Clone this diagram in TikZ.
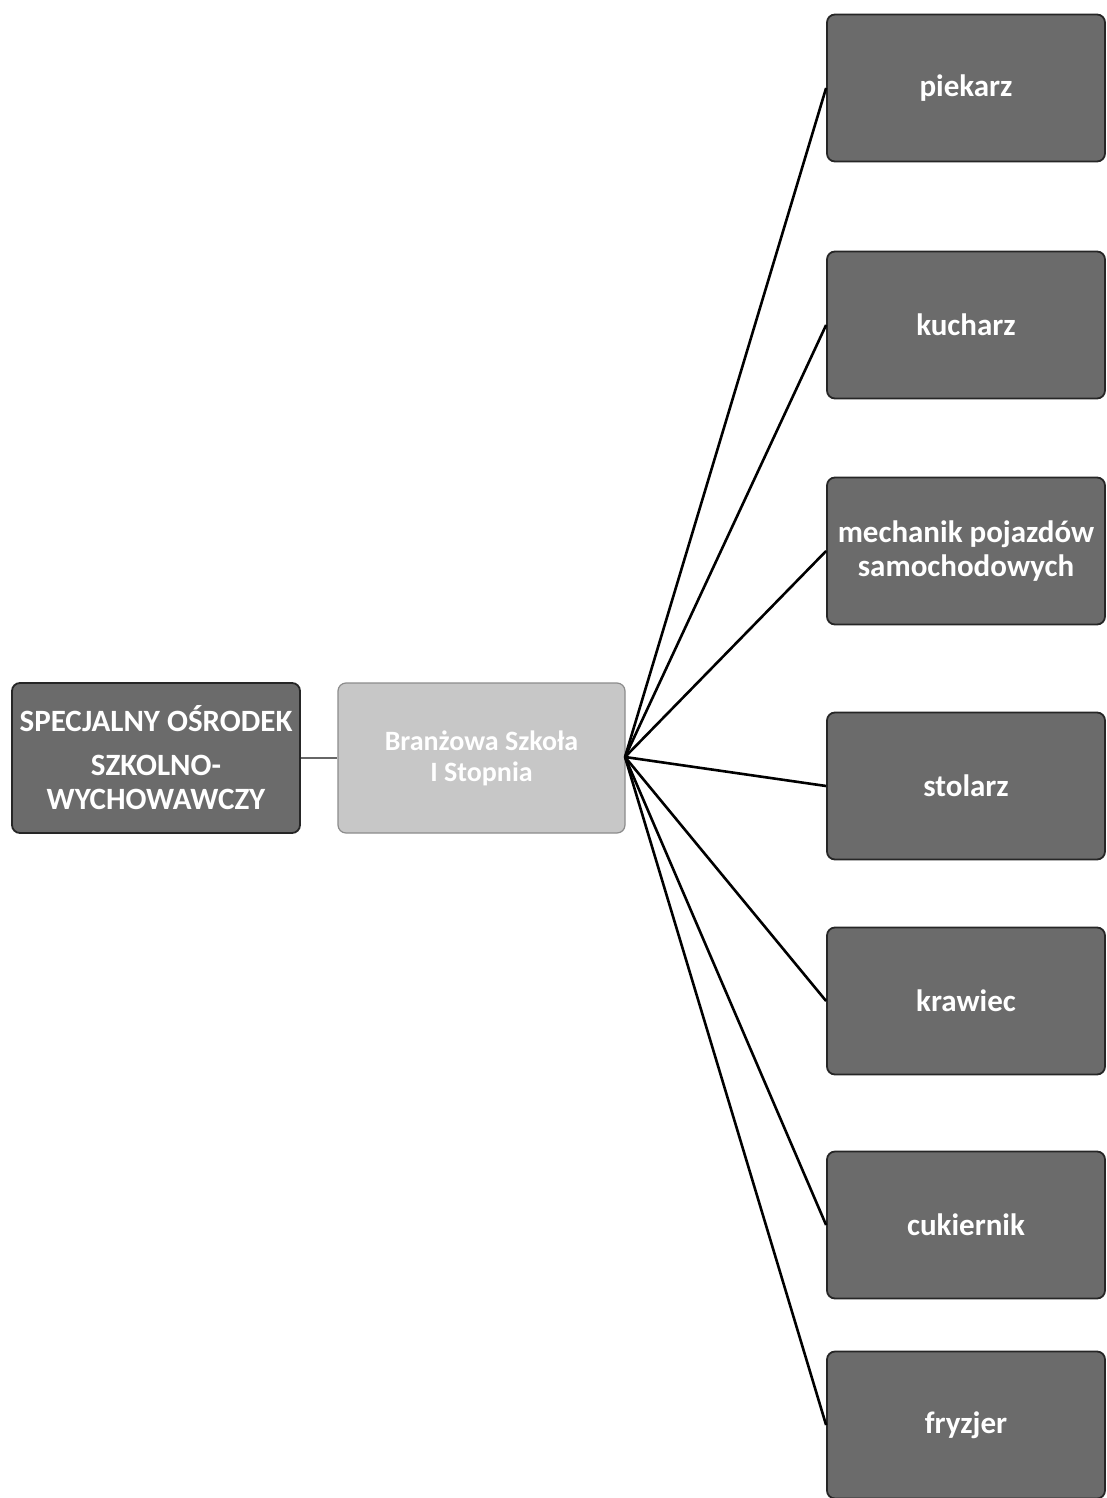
\documentclass[tikz,border=0pt]{standalone}
\usepackage{fontspec}
\setmainfont{Carlito}
\begin{document}
\begin{tikzpicture}[x=1pt,y=-1pt,
  darkbox/.style={draw=black!85,line width=1.8pt,rounded corners=8pt,fill=black!58,
    text=white,font=\bfseries\fontsize{31}{34}\selectfont,align=center,inner sep=0pt},
  lightbox/.style={draw=black!45,line width=1.2pt,rounded corners=8pt,fill=black!22,
    text=white,font=\bfseries\fontsize{28}{31}\selectfont,align=center,inner sep=0pt},
  jobbox/.style={darkbox,minimum width=278pt,minimum height=147pt},
  link/.style={draw=black,line width=2.6pt}]
\useasboundingbox (0,0) rectangle (1107,1498);
% left and middle nodes
\node[darkbox,minimum width=288pt,minimum height=150pt] (sosw) at (156,758)
  {SPECJALNY OŚRODEK\\[10pt] SZKOLNO-\\ WYCHOWAWCZY};
\node[lightbox,minimum width=287pt,minimum height=150pt] (szkola) at (481.5,758)
  {Branżowa Szkoła\\ I Stopnia};
\coordinate (hub) at (625,757);
% job nodes
\node[jobbox] (piekarz) at (966,88) {piekarz};
\node[jobbox] (kucharz) at (966,325) {kucharz};
\node[jobbox] (mechanik) at (966,551) {mechanik pojazdów\\ samochodowych};
\node[jobbox] (stolarz) at (966,786) {stolarz};
\node[jobbox] (krawiec) at (966,1001) {krawiec};
\node[jobbox] (cukiernik) at (966,1225) {cukiernik};
\node[jobbox] (fryzjer) at (966,1425) {fryzjer};
% connectors
\draw[link,line width=1.4pt,draw=black!60] (sosw.east) -- (szkola.west);
\foreach \j in {piekarz,kucharz,mechanik,stolarz,krawiec,cukiernik,fryzjer}
  \draw[link] (hub) -- (\j.west);
\end{tikzpicture}
\end{document}
